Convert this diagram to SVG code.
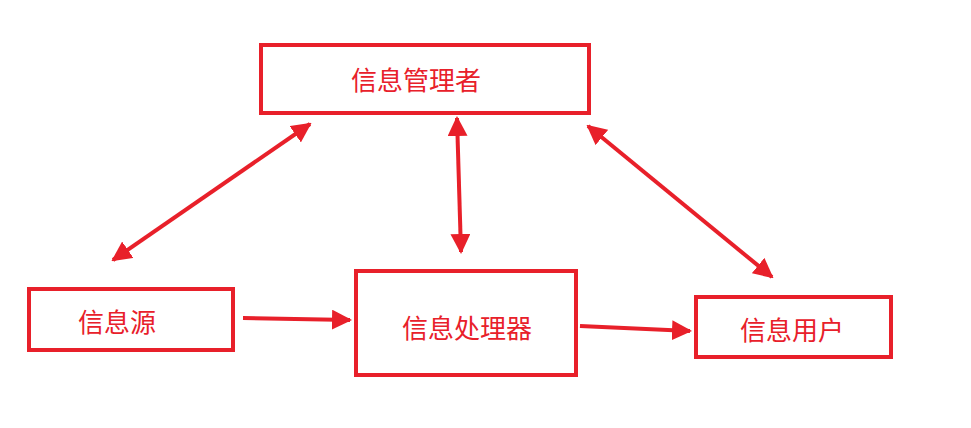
<svg xmlns="http://www.w3.org/2000/svg" width="971" height="428" viewBox="0 0 971 428">
<style>
.box{fill:#fff;stroke:#e8202a;stroke-width:4}
.lbl{font-family:"Noto Sans CJK SC",sans-serif;font-size:26px;fill:#e8202a;text-anchor:middle;dominant-baseline:central}
.ln{stroke:#e8202a;stroke-width:4;fill:none}
</style>
<defs>
<marker id="ah" viewBox="0 0 10 10" refX="9" refY="5" markerWidth="5" markerHeight="5" orient="auto-start-reverse" markerUnits="strokeWidth">
<path d="M0,0 L10,5 L0,10 z" fill="#e8202a"/>
</marker>
</defs>
<rect width="971" height="428" fill="#fff"/>
<g id="n-manager"><rect class="box" x="261" y="45" width="328" height="68"/><text class="lbl" x="416" y="78">信息管理者</text></g>
<g id="n-source"><rect class="box" x="29" y="289" width="204" height="61"/><text class="lbl" x="117" y="320">信息源</text></g>
<g id="n-processor"><rect class="box" x="356" y="271" width="220" height="104"/><text class="lbl" x="467" y="326">信息处理器</text></g>
<g id="n-user"><rect class="box" x="696" y="297" width="195" height="60"/><text class="lbl" x="792" y="328">信息用户</text></g>
<g id="connectors">
<line class="ln" x1="113" y1="260" x2="310" y2="124" marker-start="url(#ah)" marker-end="url(#ah)"/>
<line class="ln" x1="457" y1="118" x2="461" y2="252" marker-start="url(#ah)" marker-end="url(#ah)"/>
<line class="ln" x1="588" y1="126" x2="772" y2="277" marker-start="url(#ah)" marker-end="url(#ah)"/>
<line class="ln" x1="243" y1="318" x2="350" y2="320" marker-end="url(#ah)"/>
<line class="ln" x1="580" y1="326" x2="690" y2="331" marker-end="url(#ah)"/>
</g>
</svg>
